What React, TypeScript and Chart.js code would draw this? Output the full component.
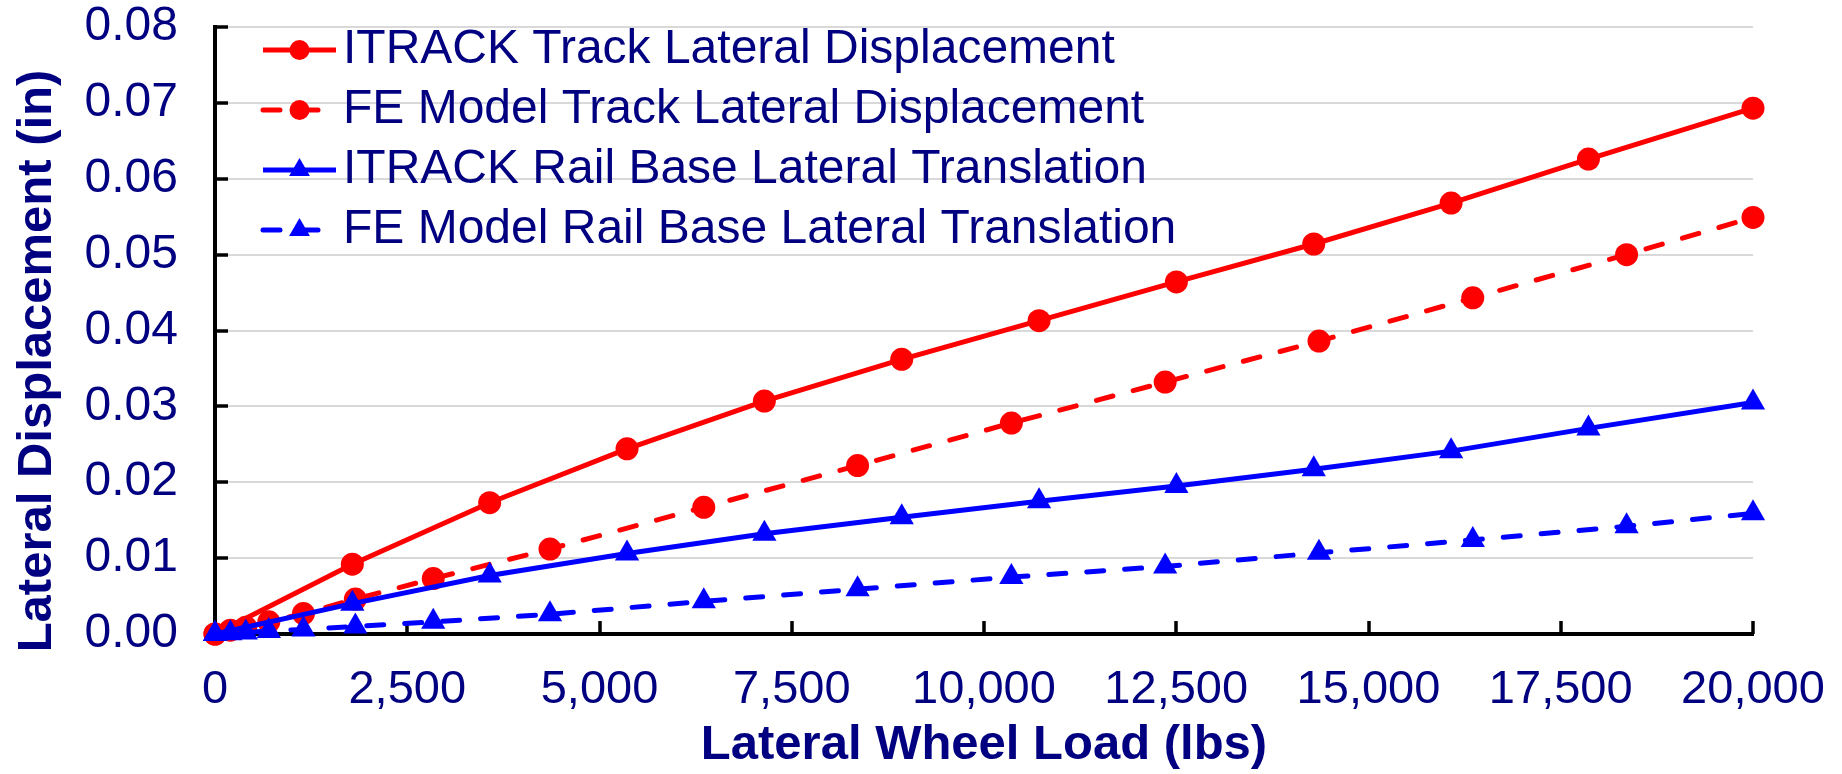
import React, { useEffect, useRef } from "react";
import { Chart, registerables } from "chart.js";

Chart.register(...registerables);

// ---- Data ----
const itrackLoads = [0, 1786, 3572, 5358, 7144, 8930, 10716, 12502, 14288, 16074, 17860, 20000];
const itrackTrack = [0, 0.0092, 0.0173, 0.0244, 0.0307, 0.0362, 0.0413, 0.0464, 0.0514, 0.0568, 0.0626, 0.0693];
const itrackRailBase = [0, 0.004, 0.0077, 0.0106, 0.0132, 0.0154, 0.0175, 0.0195, 0.0217, 0.0241, 0.0271, 0.0305];

const feLoads = [0, 200, 400, 700, 1150, 1825, 2838, 4356, 6356, 8356, 10356, 12356, 14356, 16356, 18356, 20000];
const feTrack = [0, 0.0005, 0.0009, 0.0016, 0.0027, 0.0046, 0.0073, 0.0112, 0.0167, 0.0222, 0.0278, 0.0332, 0.0386, 0.0443, 0.05, 0.0549];
const feRailBase = [0, 0.0001, 0.0002, 0.0004, 0.0006, 0.001, 0.0016, 0.0026, 0.0043, 0.0059, 0.0075, 0.0089, 0.0107, 0.0124, 0.0142, 0.0159];

const seriesLabels = [
  "ITRACK Track Lateral Displacement",
  "FE Model Track Lateral Displacement",
  "ITRACK Rail Base Lateral Translation",
  "FE Model Rail Base Lateral Translation",
];

const xTitle = "Lateral Wheel Load (lbs)";
const yTitle = "Lateral Displacement (in)";
const xMin = 0;
const xMax = 20000;
const xStep = 2500;
const yMin = 0;
const yMax = 0.08;
const yStep = 0.01;

// ---- Styles ----
const NAVY = "#000080";
const RED = "#ff0000";
const BLUE = "#0000ff";
const FONT = "'Liberation Sans', Arial, Helvetica, sans-serif";
const DASH = [17, 21];
const LINE_W = 5;
const CIRCLE_R = 11.5;
const TRI_R = 14;
const LEGEND_CIRCLE_R = 10;
const LEGEND_TRI_R = 12;

const toPoints = (xs: number[], ys: number[]) => xs.map((x, i) => ({ x, y: ys[i] }));

const innerTicks = {
  id: "innerTicks",
  beforeDatasetsDraw(chart: any) {
    const { ctx, chartArea, scales } = chart;
    ctx.save();
    ctx.strokeStyle = "#000";
    ctx.lineWidth = 3.5;
    scales.y.ticks.forEach((t: any) => {
      const y = Math.round(scales.y.getPixelForValue(t.value));
      ctx.beginPath();
      ctx.moveTo(chartArea.left, y);
      ctx.lineTo(chartArea.left + 13, y);
      ctx.stroke();
    });
    scales.x.ticks.forEach((t: any) => {
      const x = Math.round(scales.x.getPixelForValue(t.value));
      ctx.beginPath();
      ctx.moveTo(x, chartArea.bottom);
      ctx.lineTo(x, chartArea.bottom - 13);
      ctx.stroke();
    });
    ctx.restore();
  },
};

function drawMarker(ctx: CanvasRenderingContext2D, style: string, x: number, y: number, r: number) {
  ctx.beginPath();
  if (style === "triangle") {
    let rad = 0;
    ctx.moveTo(x + Math.sin(rad) * r, y - Math.cos(rad) * r);
    rad += (2 * Math.PI) / 3;
    ctx.lineTo(x + Math.sin(rad) * r, y - Math.cos(rad) * r);
    rad += (2 * Math.PI) / 3;
    ctx.lineTo(x + Math.sin(rad) * r, y - Math.cos(rad) * r);
    ctx.closePath();
  } else {
    ctx.arc(x, y, r, 0, Math.PI * 2);
  }
  ctx.fill();
}

const insideLegend = {
  id: "insideLegend",
  afterDatasetsDraw(chart: any) {
    const { ctx, chartArea } = chart;
    const x0 = chartArea.left + 48;
    const x1 = chartArea.left + 121;
    const xm = (x0 + x1) / 2;
    const textX = chartArea.left + 128;
    const rowY0 = chartArea.top + 23;
    const rowGap = 60;
    chart.data.datasets.forEach((ds: any, i: number) => {
      const y = rowY0 + i * rowGap;
      ctx.save();
      ctx.strokeStyle = ds.borderColor;
      ctx.lineWidth = ds.borderWidth;
      ctx.lineCap = ds.borderCapStyle || "butt";
      ctx.setLineDash(ds.borderDash || []);
      ctx.beginPath();
      ctx.moveTo(x0, y);
      ctx.lineTo(x1, y);
      ctx.stroke();
      ctx.setLineDash([]);
      ctx.fillStyle = ds.pointBackgroundColor;
      drawMarker(ctx, ds.pointStyle, xm, y, ds.pointStyle === "triangle" ? LEGEND_TRI_R : LEGEND_CIRCLE_R);
      ctx.fillStyle = NAVY;
      ctx.font = `48px ${FONT}`;
      ctx.textAlign = "left";
      ctx.textBaseline = "middle";
      ctx.fillText(ds.label, textX, y);
      ctx.restore();
    });
  },
};

const yTitlePlugin = {
  id: "yTitlePlugin",
  afterDraw(chart: any) {
    const { ctx, chartArea } = chart;
    ctx.save();
    ctx.translate(51, chartArea.top + 334);
    ctx.rotate(-Math.PI / 2);
    ctx.font = `bold 49px ${FONT}`;
    ctx.fillStyle = NAVY;
    ctx.textAlign = "center";
    ctx.textBaseline = "alphabetic";
    ctx.fillText(yTitle, 0, 0);
    ctx.restore();
  },
};

function makeDataset(label: string, xs: number[], ys: number[], color: string, dashed: boolean, style: string, order: number) {
  return {
    label,
    data: toPoints(xs, ys),
    borderColor: color,
    backgroundColor: color,
    pointBackgroundColor: color,
    pointBorderColor: color,
    borderWidth: LINE_W,
    borderDash: dashed ? DASH : [],
    borderCapStyle: dashed ? "round" : "butt",
    pointStyle: style,
    pointRadius: style === "triangle" ? TRI_R : CIRCLE_R,
    pointBorderWidth: 0,
    tension: 0,
    clip: false,
    order,
  } as any;
}

export default function App() {
  const canvasRef = useRef<HTMLCanvasElement | null>(null);

  useEffect(() => {
    const canvas = canvasRef.current;
    if (!canvas) return;

    const chart = new Chart(canvas, {
      type: "line",
      data: {
        datasets: [
          makeDataset(seriesLabels[0], itrackLoads, itrackTrack, RED, false, "circle", 4),
          makeDataset(seriesLabels[1], feLoads, feTrack, RED, true, "circle", 3),
          makeDataset(seriesLabels[2], itrackLoads, itrackRailBase, BLUE, false, "triangle", 2),
          makeDataset(seriesLabels[3], feLoads, feRailBase, BLUE, true, "triangle", 1),
        ],
      },
      options: {
        responsive: false,
        animation: false,
        devicePixelRatio: 1,
        layout: { padding: { top: 27, right: 89, left: 0, bottom: 0 } },
        plugins: {
          legend: { display: false },
          tooltip: { enabled: false },
        },
        elements: { line: { fill: false } },
        scales: {
          x: {
            type: "linear",
            min: xMin,
            max: xMax,
            afterFit: (scale: any) => {
              scale.height = 140;
              scale.paddingLeft = 0;
              scale.paddingRight = 0;
            },
            ticks: {
              stepSize: xStep,
              autoSkip: false,
              maxRotation: 0,
              minRotation: 0,
              padding: 33,
              color: NAVY,
              font: { family: FONT, size: 47, lineHeight: 1 },
              callback: (v: any) => Number(v).toLocaleString("en-US"),
            },
            grid: { display: false, drawTicks: false },
            border: { display: true, color: "#000", width: 4 },
            title: {
              display: true,
              text: xTitle,
              color: NAVY,
              font: { family: FONT, size: 49, weight: "bold", lineHeight: 1 },
              padding: { top: 0, bottom: 4 },
            },
          },
          y: {
            type: "linear",
            min: yMin,
            max: yMax,
            afterFit: (scale: any) => {
              scale.width = 215;
              scale.paddingTop = 0;
              scale.paddingBottom = 0;
            },
            ticks: {
              stepSize: yStep,
              padding: 37,
              color: NAVY,
              font: { family: FONT, size: 48, lineHeight: 1 },
              callback: (v: any) => Number(v).toFixed(2),
            },
            grid: { display: true, color: "#d9d9d9", lineWidth: 2, drawTicks: false },
            border: { display: true, color: "#000", width: 4 },
          },
        },
      } as any,
      plugins: [innerTicks, insideLegend, yTitlePlugin],
    });

    return () => {
      chart.destroy();
    };
  }, []);

  return (
    <div style={{ position: "fixed", left: 0, top: 0, width: 1842, height: 774, background: "#fff" }}>
      <canvas ref={canvasRef} width={1842} height={774} style={{ display: "block" }} />
    </div>
  );
}
